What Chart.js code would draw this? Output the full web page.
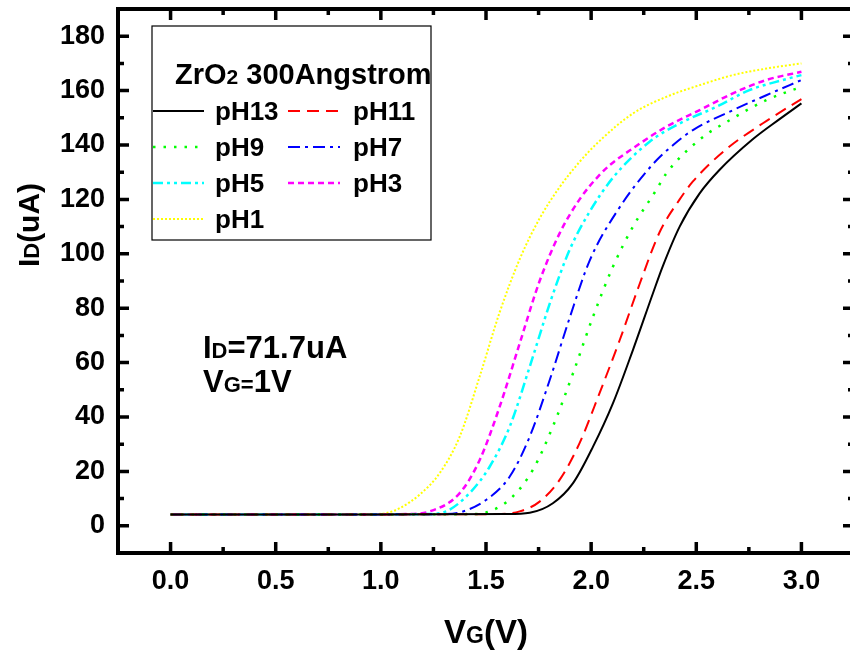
<!DOCTYPE html>
<html>
<head>
<meta charset="utf-8">
<script src="https://cdn.jsdelivr.net/npm/chart.js@4.4.0/dist/chart.umd.min.js"></script>
<style>
  html, body { margin: 0; padding: 0; background: #fff; overflow: hidden; }
  canvas { display: block; }
</style>
</head>
<body>
<canvas id="idvgChart" width="860" height="653"></canvas>
<script>
// Id-Vg curves, one pair of arrays per pH
const vgPH13 = [0, 1.0, 1.6, 1.708, 1.818, 1.914, 2.009, 2.104, 2.199, 2.294, 2.34, 2.421, 2.516, 2.61, 2.767, 2.896, 3.0];
const idPH13 = [4.2, 4.2, 4.3, 4.8, 8.3, 15.7, 29.1, 45.1, 64.7, 85.5, 95.3, 110, 122.2, 130.8, 142, 149.5, 155.3];

const vgPH11 = [0, 1.0, 1.55, 1.66, 1.755, 1.85, 1.945, 2.04, 2.136, 2.231, 2.326, 2.421, 2.484, 2.643, 2.817, 3.0];
const idPH11 = [4.2, 4.2, 4.3, 5.3, 8.9, 16.9, 30.4, 48.8, 68.3, 89.0, 108.0, 120, 126.6, 138.5, 148, 156.9];

const vgPH9 = [0, 1.0, 1.42, 1.518, 1.628, 1.723, 1.818, 1.914, 2.009, 2.104, 2.199, 2.31, 2.357, 2.516, 2.674, 2.833, 3.0];
const idPH9 = [4.2, 4.2, 4.3, 5.3, 10.8, 20.6, 36.5, 56.1, 76.9, 95.3, 110, 123.5, 129.5, 142, 149.8, 156.5, 161.4];

const vgPH7 = [0, 1.0, 1.3, 1.375, 1.502, 1.613, 1.708, 1.803, 1.898, 1.993, 2.128, 2.294, 2.39, 2.484, 2.674, 2.833, 3.0];
const idPH7 = [4.2, 4.2, 4.3, 4.9, 9.6, 18.1, 32.8, 53.6, 76.5, 97.5, 116.2, 133, 140, 145.5, 152.8, 158.3, 163.9];

const vgPH5 = [0, 1.0, 1.22, 1.31, 1.422, 1.518, 1.613, 1.708, 1.81, 1.898, 1.993, 2.104, 2.278, 2.436, 2.595, 2.753, 2.912, 3.0];
const idPH5 = [4.2, 4.2, 4.3, 5.3, 12, 21.8, 36.5, 58.5, 83.3, 101.5, 115.5, 128, 141.2, 148.5, 154, 160.2, 163.9, 165.7];

const vgPH3 = [0, 1.0, 1.12, 1.232, 1.375, 1.47, 1.565, 1.66, 1.755, 1.85, 1.945, 2.04, 2.087, 2.199, 2.357, 2.516, 2.674, 2.833, 3.0];
const idPH3 = [4.2, 4.2, 4.3, 5.3, 12, 24.2, 43.8, 67, 90, 107.5, 120, 129, 132.5, 138.8, 146.7, 152.8, 159, 163.9, 166.9];

const vgPH1 = [0, 0.95, 1.027, 1.09, 1.185, 1.28, 1.375, 1.47, 1.565, 1.66, 1.755, 1.85, 1.945, 2.04, 2.199, 2.357, 2.516, 2.674, 2.833, 3.0];
const idPH1 = [4.2, 4.3, 4.7, 6.5, 11.5, 19.4, 32.8, 54.9, 78.5, 98, 113, 124.5, 133.8, 141.5, 151.6, 157.7, 162, 165.7, 168.1, 170];

// axis ranges and tick steps
const xMin = -0.25, xMax = 3.25, xStep = 0.25;
const yMin = -10, yMax = 190, yStep = 10;

const FONT = 'Arial, "Liberation Sans", sans-serif';

function toPoints(xs, ys) {
    return xs.map((v, i) => ({ x: v, y: ys[i] }));
}

function makeSeries(label, xs, ys, color, dash, width) {
    return {
        label: label,
        data: toPoints(xs, ys),
        borderColor: color,
        borderDash: dash,
        borderWidth: width,
        pointRadius: 0,
        fill: false,
        cubicInterpolationMode: "monotone"
    };
}

const datasets = [
    makeSeries("pH13", vgPH13, idPH13, "#000000", [], 2),
    makeSeries("pH11", vgPH11, idPH11, "#ff0000", [12, 7], 2),
    makeSeries("pH9", vgPH9, idPH9, "#00ff00", [2.5, 8], 2.5),
    makeSeries("pH7", vgPH7, idPH7, "#0000ff", [12, 5, 3, 5], 2),
    makeSeries("pH5", vgPH5, idPH5, "#00ffff", [10, 4, 3, 4, 3, 4], 2.5),
    makeSeries("pH3", vgPH3, idPH3, "#ff00ff", [6, 4], 2.5),
    makeSeries("pH1", vgPH1, idPH1, "#ffff00", [2, 2], 2)
];

// draw text made of pieces, small pieces act as subscripts
function drawParts(ctx, parts, x, y, align) {
    let total = 0;
    parts.forEach(p => {
        ctx.font = "bold " + p.size + "px " + FONT;
        p.w = ctx.measureText(p.text).width;
        total += p.w;
    });
    let cx = align === "center" ? x - total / 2 : x;
    ctx.textAlign = "left";
    ctx.textBaseline = "alphabetic";
    parts.forEach(p => {
        ctx.font = "bold " + p.size + "px " + FONT;
        ctx.fillText(p.text, cx, y);
        cx += p.w;
    });
}

function isMajorX(v) { return Math.abs(v * 2 - Math.round(v * 2)) < 1e-6; }
function isMajorY(v) { return Math.round(v) % 20 === 0; }

// frame, inward ticks on all four sides, legend box and labels
const decorPlugin = {
    id: "decor",
    afterDraw(chart) {
        const ctx = chart.ctx;
        const a = chart.chartArea;
        const xs = chart.scales.x, ys = chart.scales.y;

        ctx.save();
        ctx.strokeStyle = "#000";
        ctx.lineWidth = 3.5;
        ctx.lineCap = "butt";

        xs.ticks.forEach(t => {
            if (t.value <= xMin + 1e-6 || t.value >= xMax - 1e-6) return;
            const px = xs.getPixelForValue(t.value);
            const len = isMajorX(t.value) ? 11 : 6;
            ctx.beginPath();
            ctx.moveTo(px, a.bottom); ctx.lineTo(px, a.bottom - len);
            ctx.moveTo(px, a.top); ctx.lineTo(px, a.top + len);
            ctx.stroke();
        });
        ys.ticks.forEach(t => {
            if (t.value <= yMin || t.value >= yMax) return;
            const py = ys.getPixelForValue(t.value);
            const len = isMajorY(t.value) ? 11 : 6;
            ctx.beginPath();
            ctx.moveTo(a.left, py); ctx.lineTo(a.left + len, py);
            ctx.moveTo(a.right, py); ctx.lineTo(a.right - len, py);
            ctx.stroke();
        });

        ctx.lineWidth = 4;
        ctx.strokeRect(a.left, a.top, a.right - a.left, a.bottom - a.top);

        // legend box
        ctx.lineWidth = 1.2;
        ctx.fillStyle = "#fff";
        ctx.fillRect(152, 26, 279, 214);
        ctx.strokeRect(152, 26, 279, 214);

        ctx.fillStyle = "#000";
        drawParts(ctx, [
            { text: "ZrO", size: 29 },
            { text: "2", size: 21 },
            { text: " 300Angstrom", size: 29 }
        ], 175, 84, "left");

        chart.data.datasets.forEach((ds, i) => {
            const col = i % 2, row = Math.floor(i / 2);
            const ly = 111 + row * 36;
            const x0 = col === 0 ? 153 : 288;
            const x1 = col === 0 ? 204 : 340;
            ctx.save();
            ctx.strokeStyle = ds.borderColor;
            ctx.lineWidth = ds.borderWidth;
            ctx.setLineDash(ds.borderDash);
            ctx.beginPath();
            ctx.moveTo(x0, ly); ctx.lineTo(x1, ly);
            ctx.stroke();
            ctx.restore();
            ctx.fillStyle = "#000";
            ctx.font = "bold 26px " + FONT;
            ctx.textAlign = "left";
            ctx.textBaseline = "alphabetic";
            ctx.fillText(ds.label, col === 0 ? 215 : 353, ly + 8.5);
        });

        // operating point note
        drawParts(ctx, [
            { text: "I", size: 31 },
            { text: "D", size: 22 },
            { text: "=71.7uA", size: 31 }
        ], 203, 358, "left");
        drawParts(ctx, [
            { text: "V", size: 31 },
            { text: "G=", size: 22 },
            { text: "1V", size: 31 }
        ], 203, 392, "left");

        // axis titles
        drawParts(ctx, [
            { text: "V", size: 33 },
            { text: "G", size: 23 },
            { text: "(V)", size: 33 }
        ], 486, 643, "center");

        ctx.translate(39, 225);
        ctx.rotate(-Math.PI / 2);
        drawParts(ctx, [
            { text: "I", size: 30 },
            { text: "D", size: 22 },
            { text: "(uA)", size: 30 }
        ], 0, 0, "center");

        ctx.restore();
    }
};

const idvgChart = new Chart(document.getElementById("idvgChart"), {
    type: "line",
    data: { datasets: datasets },
    options: {
        responsive: false,
        animation: false,
        devicePixelRatio: 1,
        layout: { padding: { top: 9, right: 6, left: 0, bottom: 0 } },
        plugins: {
            legend: { display: false },
            tooltip: { enabled: false }
        },
        scales: {
            x: {
                type: "linear",
                min: xMin,
                max: xMax,
                grid: { display: false, drawTicks: false },
                border: { display: false },
                afterFit: scale => {
                    scale.height = 100;
                    scale.paddingLeft = 0;
                    scale.paddingRight = 0;
                },
                ticks: {
                    stepSize: xStep,
                    autoSkip: false,
                    maxRotation: 0,
                    padding: 12,
                    color: "#000",
                    font: { family: FONT, size: 27, weight: "bold" },
                    callback: v => (isMajorX(v) && v >= 0 && v <= 3) ? v.toFixed(1) : ""
                }
            },
            y: {
                type: "linear",
                min: yMin,
                max: yMax,
                grid: { display: false, drawTicks: false },
                border: { display: false },
                afterFit: scale => {
                    scale.width = 118;
                    scale.paddingTop = 0;
                    scale.paddingBottom = 0;
                },
                ticks: {
                    stepSize: yStep,
                    autoSkip: false,
                    padding: 13,
                    color: "#000",
                    font: { family: FONT, size: 27, weight: "bold" },
                    callback: v => (isMajorY(v) && v >= 0 && v <= 180) ? String(v) : ""
                }
            }
        }
    },
    plugins: [decorPlugin]
});
</script>
</body>
</html>
